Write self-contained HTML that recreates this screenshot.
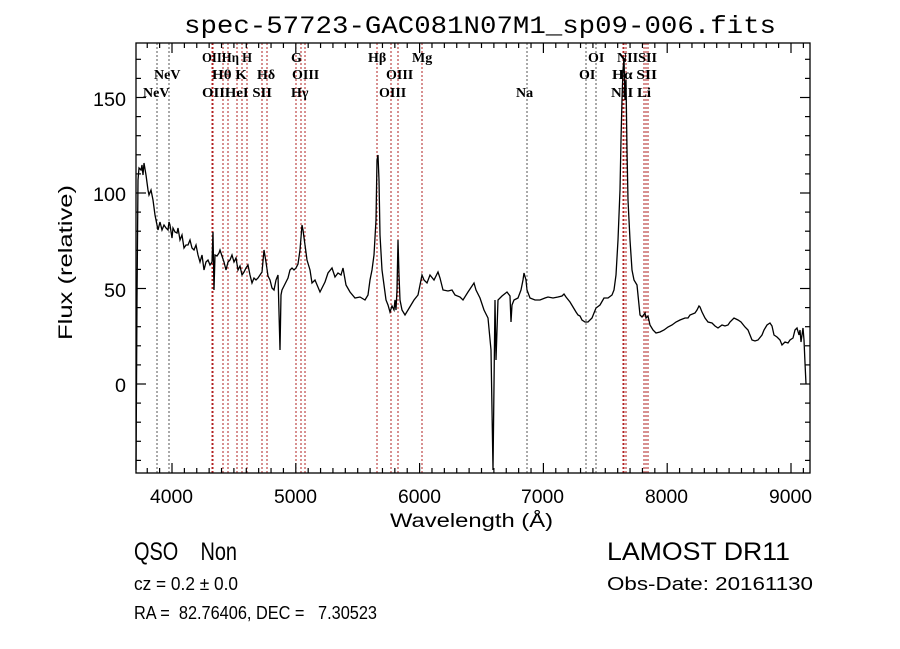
<!DOCTYPE html>
<html><head><meta charset="utf-8"><style>
html,body{margin:0;padding:0;background:#fff;width:900px;height:649px;overflow:hidden}
svg text{font-family:"Liberation Sans",sans-serif;fill:#000;white-space:pre}
.s{font-family:"Liberation Serif",serif;font-size:14px;font-weight:bold}
</style></head><body>
<svg id="g" width="900" height="649" xmlns="http://www.w3.org/2000/svg" xml:space="preserve">
<rect width="900" height="649" fill="#fff"/>
<text x="184" y="33" font-size="25" textLength="592" lengthAdjust="spacingAndGlyphs" style="font-family:'Liberation Mono',monospace">spec-57723-GAC081N07M1_sp09-006.fits</text>
<g id="lines"></g>
<g class="s">
<text x="202" y="62" class="s" textLength="50" lengthAdjust="spacingAndGlyphs">OIIHη H</text>
<text x="291" y="62" class="s">G</text>
<text x="368" y="62" class="s">Hβ</text>
<text x="412" y="62" class="s">Mg</text>
<text x="588" y="62" class="s">OI</text>
<text x="617" y="62" class="s" textLength="40" lengthAdjust="spacingAndGlyphs">NIISII</text>
<text x="154" y="79" class="s">NeV</text>
<text x="212" y="79" class="s" textLength="35" lengthAdjust="spacingAndGlyphs">Hθ K</text>
<text x="257" y="79" class="s">Hδ</text>
<text x="292" y="79" class="s">OIII</text>
<text x="386" y="79" class="s">OIII</text>
<text x="579" y="79" class="s">OI</text>
<text x="612" y="79" class="s" textLength="45" lengthAdjust="spacingAndGlyphs">Hα SII</text>
<text x="143" y="97" class="s">NeV</text>
<text x="202" y="97" class="s" textLength="70" lengthAdjust="spacingAndGlyphs">OIIHeI SII</text>
<text x="291" y="97" class="s">Hγ</text>
<text x="379" y="97" class="s">OIII</text>
<text x="516" y="97" class="s">Na</text>
<text x="611" y="97" class="s" textLength="40" lengthAdjust="spacingAndGlyphs">NII Li</text>
</g>
<polyline id="spec" fill="none" stroke="#000" stroke-width="1.3" points=""/>
<rect x="136" y="43" width="674" height="430" fill="none" stroke="#000" stroke-width="1.3"/>
<g id="ticks" stroke="#000" stroke-width="1.2"></g>
<g font-size="19">
<text x="150" y="503" textLength="43" lengthAdjust="spacingAndGlyphs">4000</text>
<text x="274" y="503" textLength="43" lengthAdjust="spacingAndGlyphs">5000</text>
<text x="398" y="503" textLength="43" lengthAdjust="spacingAndGlyphs">6000</text>
<text x="521" y="503" textLength="43" lengthAdjust="spacingAndGlyphs">7000</text>
<text x="645" y="503" textLength="43" lengthAdjust="spacingAndGlyphs">8000</text>
<text x="769" y="503" textLength="43" lengthAdjust="spacingAndGlyphs">9000</text>
<text x="115" y="392" textLength="11" lengthAdjust="spacingAndGlyphs">0</text>
<text x="104" y="297" textLength="22" lengthAdjust="spacingAndGlyphs">50</text>
<text x="93" y="201" textLength="33" lengthAdjust="spacingAndGlyphs">100</text>
<text x="93" y="106" textLength="33" lengthAdjust="spacingAndGlyphs">150</text>
<text x="390" y="527" textLength="163" lengthAdjust="spacingAndGlyphs">Wavelength (Å)</text>
<text transform="translate(72,340) rotate(-90)" textLength="155" lengthAdjust="spacingAndGlyphs">Flux (relative)</text>
</g>
<text x="134" y="560" font-size="25" textLength="103" lengthAdjust="spacingAndGlyphs">QSO    Non</text>
<text x="607" y="560" font-size="25" textLength="183" lengthAdjust="spacingAndGlyphs">LAMOST DR11</text>
<text x="134" y="590" font-size="18" textLength="104" lengthAdjust="spacingAndGlyphs">cz = 0.2 ± 0.0</text>
<text x="607" y="590" font-size="18" textLength="206" lengthAdjust="spacingAndGlyphs">Obs-Date: 20161130</text>
<text x="134" y="619" font-size="18" textLength="243" lengthAdjust="spacingAndGlyphs">RA =  82.76406, DEC =   7.30523</text>
</svg>
<script>
var NS="http://www.w3.org/2000/svg";
function el(p,t,a){var e=document.createElementNS(NS,t);for(var k in a)e.setAttribute(k,a[k]);p.appendChild(e);}
var L=document.getElementById("lines");
var red=[212,213,223,228,237,242,247,262,267,296,301,305,377,391,398,422,623,624,626,644,646,648];
var gray=[157,169,527,586,596];
red.forEach(function(x){el(L,"line",{x1:x,x2:x,y1:43,y2:473,stroke:"#b22222","stroke-width":1,"stroke-dasharray":"2,2"});});
gray.forEach(function(x){el(L,"line",{x1:x,x2:x,y1:43,y2:473,stroke:"#555","stroke-width":1,"stroke-dasharray":"2,2"});});
var T=document.getElementById("ticks");
for(var w=3800;w<=9100;w+=100){var x=172+(w-4000)*0.1238;var len=(w%1000==0)?10:5;
el(T,"line",{x1:x,x2:x,y1:473,y2:473-len});el(T,"line",{x1:x,x2:x,y1:43,y2:43+len});}
for(var v=-40;v<=170;v+=10){var y=384-v*1.91;var len=(v%50==0)?10:5;
el(T,"line",{x1:136,x2:136+len,y1:y,y2:y});el(T,"line",{x1:810,x2:810-len,y1:y,y2:y});}
var pts="136,470 137,300 138,180 139,168 141,170 142,165 143,175 144,163 146,175 148,190 149,195 151,190 153,200 155,215 157,225 158,230 160,222 162,230 164,225 166,228 168,230 169,222 170,225 172,238 173,228 175,232 177,233 178,228 180,240 182,235 184,248 186,245 188,245 190,240 192,248 194,250 196,245 198,255 200,262 202,255 204,270 206,262 208,260 210,265 212,262 213,232 214,290 215,255 217,256 219,253 220,250 222,256 224,262 226,270 228,262 230,260 232,255 234,262 236,258 238,270 240,266 242,275 244,272 246,268 248,265 250,275 252,283 254,278 256,280 258,278 260,275 262,272 264,250 266,262 268,276 270,280 272,288 274,290 276,280 278,275 280,350 281,295 282,290 284,286 286,282 288,278 290,270 292,268 294,270 296,268 298,264 300,250 302,225 303,230 305,245 307,260 310,270 312,283 315,280 320,292 325,282 328,273 332,268 335,277 338,273 341,275 343,268 346,285 350,292 355,298 360,297 365,300 368,295 370,280 372,270 374,255 376,220 377,160 378,155 379,180 380,235 382,270 384,285 386,300 388,305 390,312 392,306 394,310 395,300 396,310 397,290 398,240 399,275 400,300 402,310 405,315 408,310 411,305 414,300 418,295 420,285 422,275 424,280 427,283 430,275 434,280 438,272 440,278 443,290 448,291 452,290 455,295 460,297 463,300 468,292 474,283 476,290 480,298 484,310 488,318 491,350 493,470 495,300 496,360 498,300 502,296 507,292 510,296 511,322 512,305 514,300 518,298 521,290 523,280 524,273 526,280 527,290 530,298 535,300 540,300 545,298 548,297 553,298 558,297 562,296 564,294 566,297 570,302 573,307 576,312 578,315 580,316 582,320 585,322 588,322 592,318 594,313 596,308 600,305 604,298 608,298 612,295 614,290 616,275 618,240 620,190 621,140 622,100 623,70 624,58 625,100 626,80 627,150 628,200 630,240 632,270 634,280 637,285 640,315 642,317 645,313 646,318 648,316 650,325 653,330 656,333 660,332 664,330 668,327 672,325 676,322 680,320 685,318 688,318 690,315 695,313 697,310 699,306 700,307 702,312 705,318 708,322 712,323 715,326 718,328 722,325 725,326 728,325 730,322 734,318 738,320 741,322 745,327 748,330 752,340 755,341 758,340 762,335 764,330 767,325 770,323 772,326 774,335 777,337 780,340 782,345 785,342 788,343 790,340 793,338 795,330 797,328 799,335 800,330 801,342 803,328 804,340 805,363 806,384";
document.getElementById("spec").setAttribute("points",pts);
</script>
</body></html>
